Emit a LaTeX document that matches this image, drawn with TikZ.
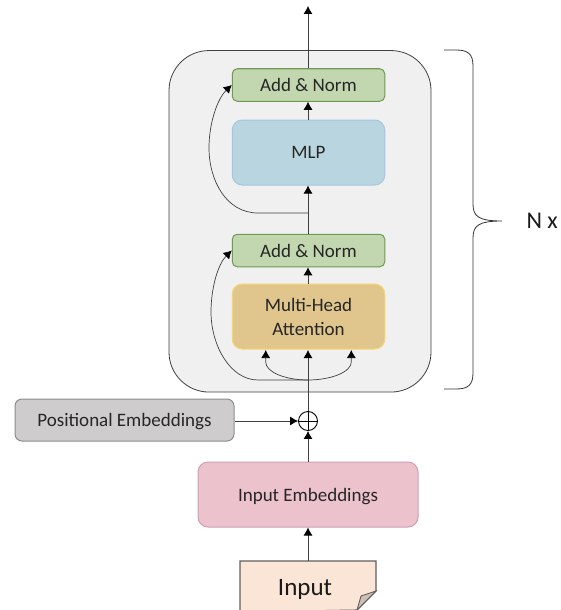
\documentclass[tikz,border=0pt]{standalone}
\usepackage{fontspec}
\setmainfont{Carlito}
\usetikzlibrary{arrows.meta,calc}
\tikzset{
  x=1pt,y=-1pt,
  blockbox/.style={draw,rounded corners=#1,line width=1pt,inner sep=0pt,text=black!85},
  link/.style={draw=black!75,line width=.8pt,-{Latex[length=8pt,width=9pt,black]}},
  curve/.style={draw=black!75,line width=.7pt,-{Latex[length=8pt,width=9pt,black]}},
  lbl/.style={font=\fontsize{19}{23}\selectfont,align=center,text=black!85}
}
\definecolor{outerF}{HTML}{F0F0F0}
\definecolor{greenF}{HTML}{C2D7B0}\definecolor{greenD}{HTML}{6E9A52}
\definecolor{blueF}{HTML}{B9D6E0}\definecolor{blueD}{HTML}{A5C5E2}
\definecolor{orangeF}{HTML}{E0C58C}\definecolor{orangeD}{HTML}{F6D66E}
\definecolor{grayF}{HTML}{CECCCD}\definecolor{grayD}{HTML}{8C8C8C}
\definecolor{pinkF}{HTML}{ECC3CD}\definecolor{pinkD}{HTML}{CF9DB8}
\definecolor{noteF}{HTML}{FBE5D6}\definecolor{noteD}{HTML}{5F5F5F}\definecolor{foldF}{HTML}{CDBFB1}
\begin{document}
\begin{tikzpicture}
\useasboundingbox (0,0) rectangle (560,610);
\clip (0,0) rectangle (560,610);
% outer panel
\node[blockbox=40pt,draw=black!75,line width=.8pt,fill=outerF,minimum width=262pt,minimum height=341.5pt,anchor=center] (panel) at (300,221.3) {};
% blocks
\node[blockbox=5pt,draw=greenD,fill=greenF,minimum width=152.5pt,minimum height=32.5pt,lbl] (an2) at (308.5,85) {Add \& Norm};
\node[blockbox=10pt,draw=blueD,fill=blueF,minimum width=152.5pt,minimum height=65pt,lbl] (mlp) at (308.5,152.5) {MLP};
\node[blockbox=5pt,draw=greenD,fill=greenF,minimum width=152.5pt,minimum height=32.5pt,lbl] (an1) at (308.5,250.5) {Add \& Norm};
\node[blockbox=10pt,draw=orangeD,fill=orangeF,minimum width=152.5pt,minimum height=65pt,lbl] (mha) at (308.5,316.5) {Multi-Head\\[1pt]Attention};
\node[blockbox=7pt,draw=grayD,fill=grayF,minimum width=219pt,minimum height=42pt,lbl,text depth=0pt] (pos) at (124.5,420) {Positional Embeddings};
\node[blockbox=10pt,draw=pinkD,fill=pinkF,minimum width=220pt,minimum height=65pt,lbl,text depth=0pt] (inemb) at (308,494.5) {Input Embeddings};
\node[circle,draw=black,line width=.9pt,minimum size=19pt,inner sep=0pt] (plus) at (308,421) {};
\draw[black,line width=.9pt] (plus.north)--(plus.south) (plus.west)--(plus.east);
% input note
\coordinate (noteTL) at (240,561);
\coordinate (noteTR) at (376,561);
\coordinate (noteFoldR) at (376,591);
\coordinate (noteFoldB) at (357,610);
\coordinate (noteBL) at (240,612);
\coordinate (noteFoldI) at (361,596);
\draw[draw=noteD,line width=1.1pt,fill=noteF] (noteBL)--(noteTL)--(noteTR)--(noteFoldR)--(noteFoldB)--(240,612)--cycle;
\draw[draw=noteD,line width=.9pt,fill=foldF] (noteFoldR)--(noteFoldI)--(noteFoldB)--cycle;
\node[font=\fontsize{25}{29}\selectfont,text=black!90] (inp) at (305,589) {Input};
% connectors
\coordinate (topEnd) at (308,6);
\coordinate (splitB) at (308,213);
\coordinate (splitA) at (308,380);
\coordinate (loopL) at (265.7,350);
\coordinate (loopR) at (351.3,350);
\coordinate (mhaIn) at (308,350);
\path[link] (an2.north -| topEnd) -- (topEnd);
\path[link] (mlp.north -| topEnd) -- (an2.south -| topEnd);
\path[link] (an1.north -| topEnd) -- (mlp.south -| topEnd);
\path[link] (mha.north -| topEnd) -- (an1.south -| topEnd);
\path[link] (plus.north) -- (mhaIn);
\path[link] (inemb.north) -- (plus.south);
\path[link] (pos.east |- plus.west) -- (plus.west);
\path[link] (noteTL -| inemb.south) -- (inemb.south);
\path[curve] (splitB) -- (258,213) .. controls (226,213) and (209,180) .. (209,148) .. controls (209,122) and (218,98) .. (an2.west);
\path[curve] (splitA) -- (258,380) .. controls (230,380) and (211,345) .. (211,312) .. controls (211,288) and (218,264) .. (an1.west);
\path[curve] (splitA) .. controls (285,380) and (265.7,372) .. (265.7,362) -- (loopL);
\path[curve] (splitA) .. controls (331,380) and (351.3,372) .. (351.3,362) -- (loopR);
% brace
\coordinate (brT) at (444,50);
\coordinate (brM) at (502,221);
\coordinate (brB) at (444,389);
\draw[draw=black!80,line width=.8pt] (brT) -- (456,50) .. controls (468,50) and (473,54) .. (473,66) -- (473,204) .. controls (473,216) and (478,221) .. (brM)
  (brM) .. controls (478,221) and (473,226) .. (473,238) -- (473,373) .. controls (473,385) and (468,389) .. (456,389) -- (brB);
\node[font=\fontsize{24}{28}\selectfont,text=black!90,anchor=west] (nx) at (523,221) {N x};
\end{tikzpicture}
\end{document}
